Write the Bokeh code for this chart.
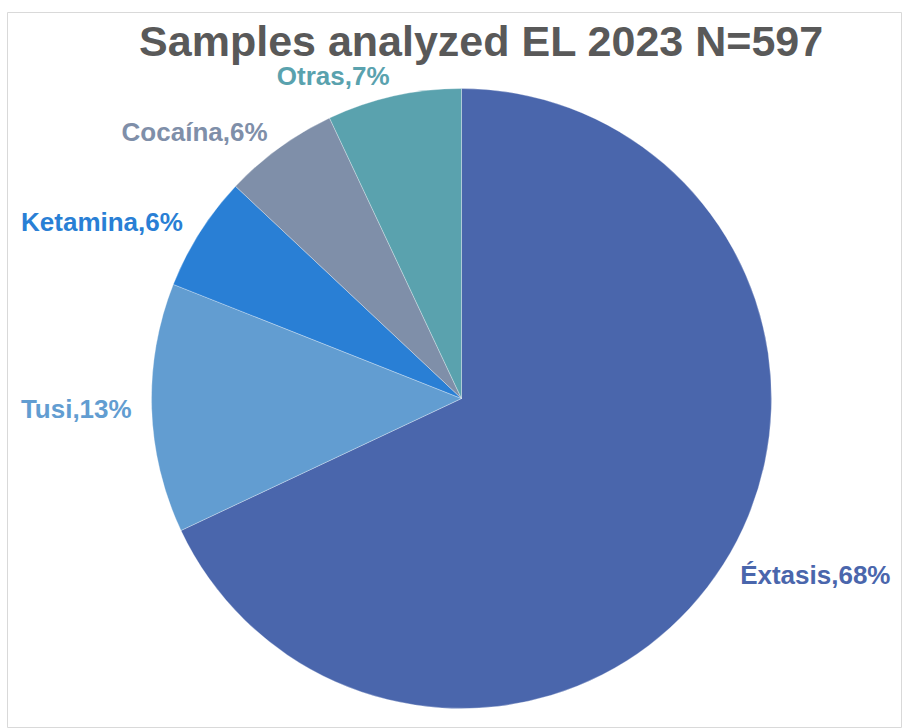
import math
from bokeh.plotting import figure
from bokeh.models import ColumnDataSource, Range1d, Label
from bokeh.core.properties import value
from bokeh.embed import file_html
from bokeh.resources import INLINE

# ---- data ----
categories = ["Éxtasis", "Tusi", "Ketamina", "Cocaína", "Otras"]
percents = [68, 13, 6, 6, 7]
colors = ["#4A66AC", "#629DD1", "#297FD5", "#7F8FA9", "#5AA2AE"]
title_text = "Samples analyzed EL 2023 N=597"

# ---- layout constants (pixels; 1 data unit = 1 px) ----
W, H = 902, 728
CX, CY = 461, 398          # pie centre on screen
FRAME_L, FRAME_T = 7, 12
R = 310
LABEL_R = 330
FONT = "Liberation Sans"

total = float(sum(percents))
starts, ends, lx, ly, aligns, texts = [], [], [], [], [], []
cum = 0.0
for cat, pct in zip(categories, percents):
    a0 = math.pi / 2 - 2 * math.pi * cum / total
    cum += pct
    a1 = math.pi / 2 - 2 * math.pi * cum / total
    starts.append(a0)
    ends.append(a1)
    mid = (a0 + a1) / 2
    lx.append(LABEL_R * math.cos(mid))
    ly.append(LABEL_R * math.sin(mid))
    aligns.append("left" if math.cos(mid) > 0 else "right")
    texts.append(f"{cat},{pct}%")

src = ColumnDataSource(dict(cat=categories, pct=percents, color=colors,
                            start=starts, end=ends, lx=lx, ly=ly,
                            align=aligns, text=texts))

p = figure(width=W, height=H, output_backend="svg", toolbar_location=None,
           x_range=Range1d(FRAME_L - CX, W - CX),
           y_range=Range1d(CY - H, CY - FRAME_T),
           x_axis_type=None, y_axis_type=None,
           min_border_left=FRAME_L, min_border_top=FRAME_T,
           min_border_right=0, min_border_bottom=0)
p.grid.visible = False
p.outline_line_color = "#d9d9d9"
p.outline_line_width = 1
p.background_fill_color = "white"
p.border_fill_color = "white"

p.wedge(x=0, y=0, radius=R, start_angle="start", end_angle="end",
        direction="clock", fill_color="color", line_color="white",
        line_width=0.5, line_alpha=0.6, source=src)

p.text(x="lx", y="ly", text="text", text_align="align",
       text_baseline="middle", text_color="color",
       text_font=value(FONT), text_font_style="bold",
       text_font_size="26px", source=src)

p.add_layout(Label(x=20, y=CY - 40, text=title_text, text_align="center",
                   text_baseline="middle", text_font=FONT,
                   text_font_style="bold", text_font_size="43px",
                   text_color="#595959"))

open("out.html", "w").write(file_html(p, INLINE))
